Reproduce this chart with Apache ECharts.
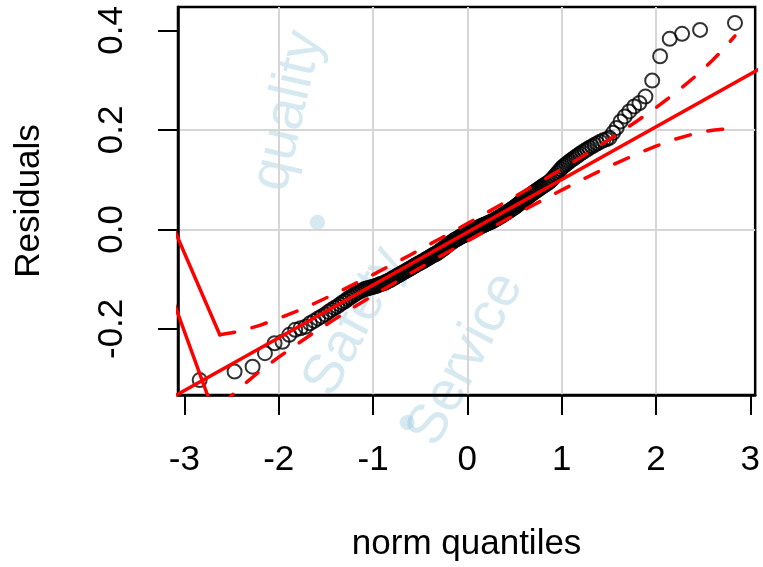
<!DOCTYPE html>
<html>
<head>
<meta charset="utf-8">
<script src="https://cdn.jsdelivr.net/npm/echarts@6/dist/echarts.min.js"></script>
<style>
  html, body { margin: 0; padding: 0; background: #ffffff; }
  #wrap { position: relative; width: 763px; height: 567px; overflow: hidden; }
  #chart { position: absolute; left: 0; top: 0; width: 763px; height: 567px; }
  .wm { position: absolute; left: 0; top: 0; font: 56px "Liberation Sans", Arial, sans-serif; color: rgba(140, 195, 215, 0.36);
        white-space: nowrap; transform-origin: 0 0; line-height: 1; }
</style>
</head>
<body>
<div id="wrap">
  <div class="wm" id="wm1">quality</div>
  <div class="wm" id="wm2">•</div>
  <div class="wm" id="wm3">Safety</div>
  <div class="wm" id="wm4">•</div>
  <div class="wm" id="wm5">Service</div>
  <div id="chart"></div>
</div>
<script>
// Theoretical normal quantiles of the 220 sorted residuals
const theoQuantiles = [
  -2.838, -2.468, -2.277, -2.146, -2.044, -1.960, -1.888, -1.825, -1.769, -1.716,
  -1.669, -1.625, -1.583, -1.545, -1.507, -1.474, -1.441, -1.409, -1.379, -1.351,
  -1.323, -1.295, -1.270, -1.245, -1.220, -1.196, -1.174, -1.152, -1.130, -1.108,
  -1.087, -1.068, -1.048, -1.028, -1.008, -0.990, -0.972, -0.954, -0.936, -0.918,
  -0.900, -0.884, -0.867, -0.851, -0.835, -0.818, -0.802, -0.787, -0.772, -0.757,
  -0.741, -0.726, -0.711, -0.696, -0.682, -0.668, -0.654, -0.640, -0.626, -0.612,
  -0.598, -0.585, -0.571, -0.558, -0.545, -0.532, -0.518, -0.505, -0.492, -0.480,
  -0.467, -0.454, -0.442, -0.429, -0.417, -0.404, -0.392, -0.380, -0.367, -0.355,
  -0.343, -0.331, -0.319, -0.307, -0.295, -0.283, -0.271, -0.260, -0.248, -0.236,
  -0.224, -0.212, -0.201, -0.189, -0.178, -0.166, -0.155, -0.143, -0.132, -0.120,
  -0.109, -0.097, -0.086, -0.074, -0.063, -0.051, -0.040, -0.029, -0.017, -0.006,
  0.006, 0.017, 0.029, 0.040, 0.051, 0.063, 0.074, 0.086, 0.097, 0.109,
  0.120, 0.132, 0.143, 0.155, 0.166, 0.178, 0.189, 0.201, 0.212, 0.224,
  0.236, 0.248, 0.260, 0.271, 0.283, 0.295, 0.307, 0.319, 0.331, 0.343,
  0.355, 0.367, 0.380, 0.392, 0.404, 0.417, 0.429, 0.442, 0.454, 0.467,
  0.480, 0.492, 0.505, 0.518, 0.532, 0.545, 0.558, 0.571, 0.585, 0.598,
  0.612, 0.626, 0.640, 0.654, 0.668, 0.682, 0.696, 0.711, 0.726, 0.741,
  0.757, 0.772, 0.787, 0.802, 0.818, 0.835, 0.851, 0.867, 0.884, 0.900,
  0.918, 0.936, 0.954, 0.972, 0.990, 1.008, 1.028, 1.048, 1.068, 1.087,
  1.108, 1.130, 1.152, 1.174, 1.196, 1.220, 1.245, 1.270, 1.295, 1.323,
  1.351, 1.379, 1.409, 1.441, 1.474, 1.507, 1.545, 1.583, 1.625, 1.669,
  1.716, 1.769, 1.825, 1.888, 1.960, 2.044, 2.146, 2.277, 2.468, 2.838
];

// Sorted residuals
const residuals = [
  -0.303, -0.286, -0.276, -0.249, -0.229, -0.226, -0.212, -0.202, -0.199, -0.196,
  -0.189, -0.184, -0.179, -0.175, -0.171, -0.166, -0.162, -0.158, -0.155, -0.151,
  -0.147, -0.144, -0.140, -0.137, -0.134, -0.131, -0.128, -0.126, -0.124, -0.122,
  -0.120, -0.119, -0.118, -0.117, -0.116, -0.115, -0.114, -0.113, -0.111, -0.110,
  -0.109, -0.108, -0.106, -0.105, -0.103, -0.102, -0.100, -0.098, -0.097, -0.095,
  -0.093, -0.092, -0.090, -0.088, -0.087, -0.085, -0.084, -0.082, -0.081, -0.079,
  -0.078, -0.076, -0.075, -0.073, -0.072, -0.070, -0.069, -0.068, -0.066, -0.065,
  -0.064, -0.062, -0.061, -0.059, -0.058, -0.057, -0.055, -0.054, -0.052, -0.051,
  -0.050, -0.049, -0.047, -0.046, -0.044, -0.042, -0.041, -0.039, -0.038, -0.036,
  -0.034, -0.032, -0.030, -0.029, -0.027, -0.026, -0.024, -0.023, -0.021, -0.020,
  -0.019, -0.018, -0.016, -0.015, -0.014, -0.013, -0.012, -0.011, -0.010, -0.009,
  -0.007, -0.006, -0.005, -0.004, -0.003, -0.002, -0.001, 0.001, 0.002, 0.003,
  0.004, 0.005, 0.006, 0.007, 0.008, 0.009, 0.010, 0.011, 0.012, 0.013,
  0.014, 0.015, 0.016, 0.017, 0.018, 0.020, 0.021, 0.022, 0.024, 0.025,
  0.026, 0.028, 0.029, 0.031, 0.032, 0.034, 0.035, 0.037, 0.038, 0.040,
  0.042, 0.043, 0.045, 0.047, 0.049, 0.051, 0.053, 0.055, 0.057, 0.059,
  0.061, 0.063, 0.065, 0.067, 0.069, 0.071, 0.073, 0.075, 0.077, 0.079,
  0.081, 0.083, 0.085, 0.087, 0.089, 0.091, 0.093, 0.095, 0.098, 0.101,
  0.105, 0.109, 0.113, 0.117, 0.121, 0.125, 0.128, 0.131, 0.134, 0.137,
  0.140, 0.143, 0.146, 0.149, 0.152, 0.155, 0.158, 0.161, 0.164, 0.167,
  0.170, 0.173, 0.176, 0.179, 0.181, 0.184, 0.194, 0.204, 0.217, 0.227,
  0.237, 0.247, 0.254, 0.267, 0.299, 0.348, 0.383, 0.393, 0.401, 0.415
];

// Pointwise confidence envelope around the reference line
const upperZ   = [-2.625, -2.5, -2.4, -2.2, -2.0, -1.8, -1.6, -1.4, -1.2, -1.0, -0.8, -0.6, -0.4, -0.2, 0.0,
                  0.2, 0.4, 0.6, 0.8, 1.0, 1.2, 1.4, 1.6, 1.8, 2.0, 2.2, 2.4, 2.5, 2.6, 2.7, 2.838];
const envUpper = [-0.212, -0.208, -0.204, -0.193, -0.179, -0.164, -0.147, -0.129, -0.110, -0.091, -0.071, -0.051, -0.030, -0.0095, 0.0116,
                  0.0329, 0.0545, 0.0764, 0.0986, 0.1212, 0.1442, 0.1679, 0.1924, 0.2178, 0.2447, 0.2734, 0.3048, 0.3218, 0.3399, 0.3592, 0.3888];
const lowerZ   = [-2.838, -2.7, -2.6, -2.5, -2.4, -2.2, -2.0, -1.8, -1.6, -1.4, -1.2, -1.0, -0.8, -0.6, -0.4, -0.2, 0.0,
                  0.2, 0.4, 0.6, 0.8, 1.0, 1.2, 1.4, 1.6, 1.8, 2.0, 2.2, 2.4, 2.5, 2.6, 2.7, 2.838];
const envLower = [-0.401, -0.371, -0.352, -0.334, -0.317, -0.285, -0.257, -0.230, -0.204, -0.180, -0.156, -0.133, -0.111, -0.088, -0.0665, -0.0449, -0.0236,
                  -0.0025, 0.0183, 0.0388, 0.0590, 0.0788, 0.0982, 0.1169, 0.1348, 0.1518, 0.1673, 0.1810, 0.1920, 0.1962, 0.1993, 0.2012, 0.2008];

// Reference line (quartile fit), extended past the plot edges
const refLineZ = [-3.2, 3.2];
const refLineY = [-0.3452, 0.3332];

// Two steep solid strokes at the far left
const leftStrokeA = [[-3.2, 0.040], [-2.625, -0.212]];
const leftStrokeB = [[-3.2, -0.101], [-2.70, -0.362]];

// Axis ticks
const xTicks = [-3, -2, -1, 0, 1, 2, 3];
const yTicks = [-0.2, 0.0, 0.2, 0.4];

const X_MIN = -3.068, X_MAX = 3.052;
const Y_MIN = -0.333, Y_MAX = 0.447;

const FONT = '"Liberation Sans", Arial, Helvetica, sans-serif';
const RED = '#ff0000';

// Faint diagonal stamp text behind the plot
const stamp = [
  ['wm1', 285, 110, -77, 'center'],
  ['wm2', 316.7, 221.7, -69, 'center'],
  ['wm3', 352, 320, -62, 'center'],
  ['wm4', 406.8, 422, -62, 'center'],
  ['wm5', 419, 440, -62, 'left']
];
stamp.forEach(([id, cx, cy, deg, align]) => {
  const el = document.getElementById(id);
  const w = el.offsetWidth, h = el.offsetHeight;
  const ox = align === 'center' ? w / 2 : 0;
  el.style.transformOrigin = ox + 'px ' + (h / 2) + 'px';
  el.style.left = (cx - ox) + 'px';
  el.style.top = (cy - h / 2) + 'px';
  el.style.transform = 'rotate(' + deg + 'deg)';
});

const points = theoQuantiles.map((z, i) => [z, residuals[i]]);
const upperLine = upperZ.map((z, i) => [z, envUpper[i]]);
const lowerLine = lowerZ.map((z, i) => [z, envLower[i]]);
const refLine = refLineZ.map((z, i) => [z, refLineY[i]]);

const chart = echarts.init(document.getElementById('chart'));

chart.setOption({
  animation: false,
  grid: {
    left: 178, right: 6, top: 7, bottom: 172,
    show: true, borderColor: '#000000', borderWidth: 2.5
  },
  xAxis: {
    type: 'value',
    min: X_MIN, max: X_MAX,
    name: 'norm quantiles',
    nameLocation: 'middle',
    nameGap: 132,
    nameTextStyle: { color: '#000', fontSize: 35, fontFamily: FONT },
    axisLine: { show: true, onZero: false, lineStyle: { color: '#000', width: 2.5 } },
    axisTick: { show: true, length: 20, customValues: xTicks, lineStyle: { color: '#000', width: 2 } },
    axisLabel: { customValues: xTicks, margin: 48, color: '#000', fontSize: 35, fontFamily: FONT, formatter: v => String(v) },
    splitLine: { show: true, showMinLine: false, showMaxLine: false, lineStyle: { color: '#d6d6d6', width: 2 } }
  },
  yAxis: {
    type: 'value',
    min: Y_MIN, max: Y_MAX,
    name: 'Residuals',
    nameLocation: 'middle',
    nameGap: 131,
    nameTextStyle: { color: '#000', fontSize: 35, fontFamily: FONT },
    axisLine: { show: true, onZero: false, lineStyle: { color: '#000', width: 2.5 } },
    axisTick: { show: true, length: 20, customValues: yTicks, lineStyle: { color: '#000', width: 2 } },
    axisLabel: { customValues: yTicks, rotate: 90, margin: 48, color: '#000', fontSize: 35, fontFamily: FONT, formatter: v => v.toFixed(1) },
    splitLine: { show: true, showMinLine: false, showMaxLine: false, lineStyle: { color: '#d6d6d6', width: 2 } }
  },
  series: [
    {
      type: 'scatter', data: points, symbol: 'circle', symbolSize: 14,
      itemStyle: { color: 'rgba(0,0,0,0)', borderColor: '#000000', borderWidth: 2 },
      silent: true, z: 3
    },
    {
      type: 'line', data: refLine, symbol: 'none', clip: true, silent: true, z: 4,
      lineStyle: { color: RED, width: 3.5, cap: 'round' }
    },
    {
      type: 'line', data: upperLine, symbol: 'none', clip: true, silent: true, z: 4,
      lineStyle: { color: RED, width: 3.5, type: [15, 18], cap: 'round', join: 'round' }
    },
    {
      type: 'line', data: lowerLine, symbol: 'none', clip: true, silent: true, z: 4,
      lineStyle: { color: RED, width: 3.5, type: [15, 18], cap: 'round', join: 'round' }
    },
    {
      type: 'line', data: leftStrokeA, symbol: 'none', clip: true, silent: true, z: 4,
      lineStyle: { color: RED, width: 3.5, cap: 'round' }
    },
    {
      type: 'line', data: leftStrokeB, symbol: 'none', clip: true, silent: true, z: 4,
      lineStyle: { color: RED, width: 3.5, cap: 'round' }
    }
  ]
});
</script>
</body>
</html>
